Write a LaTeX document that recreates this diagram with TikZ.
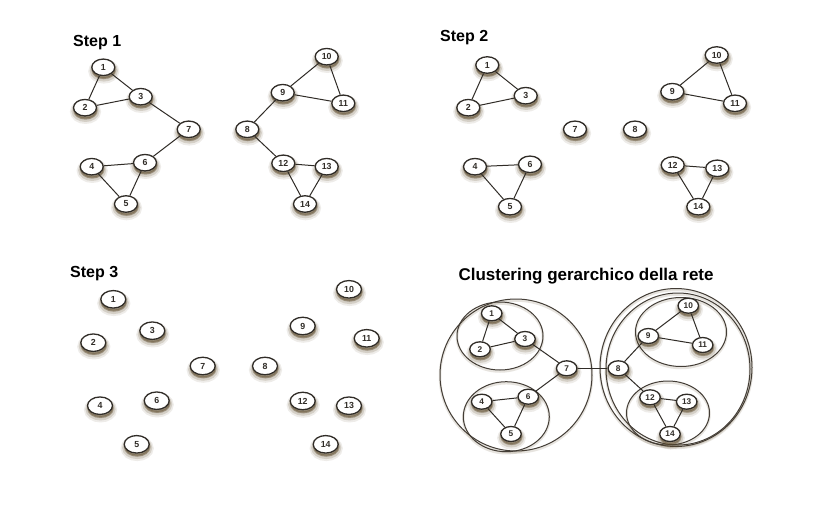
\documentclass[tikz,border=0pt]{standalone}
\usepackage{fontspec}
\setmainfont{Liberation Sans}
\usetikzlibrary{shapes.geometric}
\definecolor{shc}{HTML}{5E4C2C}
\definecolor{ln}{HTML}{302C27}
\definecolor{cc}{HTML}{433D36}
\tikzset{
  nd/.style={ellipse, draw=ln, line width=1.3pt, fill=white,
    minimum width=23pt, minimum height=16.5pt, inner sep=0pt,
    font=\fontsize{8.8}{9}\selectfont\bfseries, text=ln,
    preaction={fill=shc, fill opacity=0.10, draw=shc, draw opacity=0.10, line width=8pt,
      transform canvas={shift={(0.5pt,-4pt)}}},
    preaction={fill=shc, fill opacity=0.18, draw=shc, draw opacity=0.18, line width=5pt,
      transform canvas={shift={(0.5pt,-3.5pt)}}},
    preaction={fill=shc, fill opacity=0.35, draw=shc, draw opacity=0.35, line width=2pt,
      transform canvas={shift={(0.5pt,-2.5pt)}}}},
  big/.style={nd, minimum width=25pt, minimum height=17.5pt},
  sm/.style={nd, minimum width=20.5pt, minimum height=15pt, font=\fontsize{8.3}{9}\selectfont\bfseries},
  ed/.style={draw=ln, line width=1pt},
  cl/.style={draw=cc, line width=1pt,
    preaction={draw=shc, draw opacity=0.15, line width=2.5pt, transform canvas={shift={(0pt,-1.5pt)}}}},
  lab/.style={anchor=base west, inner sep=0pt, font=\fontsize{16}{19}\selectfont\bfseries, text=black}
}
\begin{document}
\begin{tikzpicture}[x=1pt, y=-1pt]
\fill[white] (0,0) rectangle (833,509);
\useasboundingbox (0,0) rectangle (833,509);

% ---------- Step 1 ----------
\node[lab] (t1) at (73,46.7) {Step 1};
\foreach \n/\x/\y in {1/103.3/67.3, 2/85/107.7, 3/140.7/96.7, 7/188.7/129.3,
  4/91.7/166.7, 6/145/162.7, 5/126/204, 10/326.7/56.7, 9/282.7/92.7,
  11/343.3/103.3, 8/247.3/129.3, 12/283.3/163.3, 13/326.7/166.7, 14/305/204}
  \node[nd] (a\n) at (\x,\y) {\n};
\foreach \u/\v in {1/2,1/3,2/3,3/7,6/7,4/6,4/5,5/6,8/9,8/12,9/10,9/11,10/11,12/13,12/14,13/14}
  \draw[ed] (a\u) -- (a\v);

% ---------- Step 2 ----------
\node[lab] (t2) at (440,41.7) {Step 2};
\foreach \n/\x/\y in {1/487.3/65, 2/468.3/107.7, 3/525.7/95.7, 7/575/129.3,
  8/635/129.3, 4/475/166.7, 6/530/164.3, 5/510/206.7, 10/716.7/55,
  9/672.3/91.7, 11/735/103.3, 12/672.7/165, 13/717.3/168.3, 14/698.3/206.7}
  \node[nd] (b\n) at (\x,\y) {\n};
\foreach \u/\v in {1/2,1/3,2/3,4/6,4/5,5/6,9/10,9/11,10/11,12/13,12/14,13/14}
  \draw[ed] (b\u) -- (b\v);

% ---------- Step 3 ----------
\node[lab] (t3) at (70,277.3) {Step 3};
\foreach \n/\x/\y in {1/113.3/299.3, 2/93.3/342.7, 3/152.3/330.7, 7/202.7/366,
  4/100/405.7, 6/156.7/400.7, 5/136.7/444.3, 10/349/289.3, 9/302.7/326,
  11/366.7/338.3, 8/265/366, 12/302.7/401, 13/349/405.7, 14/325.7/444.3}
  \node[big] (c\n) at (\x,\y) {\n};

% ---------- Clustering gerarchico ----------
\node[lab, font=\fontsize{17}{20}\selectfont\bfseries] (t4) at (458.3,280.7) {Clustering gerarchico della rete};
\draw[cl] (516,375) circle [radius=76];
\draw[cl] (676,367.5) ellipse [x radius=76, y radius=79];
\draw[cl] (678,369) ellipse [x radius=72, y radius=76];
\draw[cl] (500,336) ellipse [x radius=43, y radius=34];
\draw[cl] (506.3,416.7) ellipse [x radius=43, y radius=35];
\draw[cl] (681,332) ellipse [x radius=45.5, y radius=34.5];
\draw[cl] (668,413) ellipse [x radius=41.5, y radius=32];
\foreach \n/\x/\y in {1/491.7/313.3, 2/480/349.3, 3/525/339, 7/566.7/368.3,
  4/481.7/401.7, 6/528.3/396.7, 5/511/434, 10/688.3/305.7, 9/648.3/336,
  11/702.7/345, 8/618.3/368.3, 12/650/397.3, 13/686.7/401.7, 14/670/434}
  \node[sm] (d\n) at (\x,\y) {\n};
\foreach \u/\v in {1/2,1/3,2/3,3/7,6/7,4/6,4/5,5/6,7/8,8/9,8/12,9/10,9/11,10/11,12/13,12/14,13/14}
  \draw[ed] (d\u) -- (d\v);
\end{tikzpicture}
\end{document}
